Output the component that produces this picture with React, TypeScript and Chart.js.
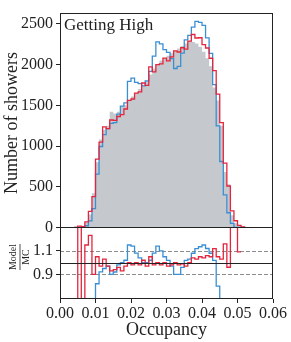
import React, { useEffect, useRef } from 'react';
import { Chart, registerables } from 'chart.js';

Chart.register(...registerables);

// ---- data (bin lower edges, width 0.001) ----
const binLow = [
  0.004, 0.005, 0.006, 0.007, 0.008, 0.009, 0.010, 0.011, 0.012, 0.013,
  0.014, 0.015, 0.016, 0.017, 0.018, 0.019, 0.020, 0.021, 0.022, 0.023,
  0.024, 0.025, 0.026, 0.027, 0.028, 0.029, 0.030, 0.031, 0.032, 0.033,
  0.034, 0.035, 0.036, 0.037, 0.038, 0.039, 0.040, 0.041, 0.042, 0.043,
  0.044, 0.045, 0.046, 0.047, 0.048, 0.049, 0.050, 0.051,
];
const binWidth = 0.001;

// MC (grey filled)
const mcCounts = [
  2, 5, 20, 60, 160, 420, 800, 1080, 1200, 1250,
  1420, 1400, 1420, 1490, 1500, 1560, 1610, 1650, 1700, 1740,
  1800, 1880, 1950, 2000, 2050, 2080, 2110, 2140, 2170, 2200,
  2230, 2260, 2290, 2280, 2260, 2220, 2160, 2080, 1980, 1720,
  1560, 1250, 680, 530, 150, 50, 22, 0,
];
// Model (red)
const redCounts = [
  0, 15, 8, 69, 197, 378, 840, 1048, 1236, 1213,
  1320, 1316, 1363, 1386, 1455, 1560, 1578, 1650, 1666, 1775,
  1746, 1974, 1911, 2000, 2009, 2080, 2047, 2097, 2170, 2156,
  2208, 2192, 2290, 2371, 2328, 2331, 2246, 2205, 2079, 1926,
  1638, 1288, 789, 509, 203, 82, 24, 6,
];
// Model (blue)
const blueCounts = [
  0, 0, 3, 20, 80, 230, 656, 994, 1140, 1213,
  1278, 1288, 1392, 1490, 1530, 1794, 1835, 1782, 1768, 1740,
  1800, 1918, 2106, 2280, 2255, 2184, 2152, 2076, 1953, 1980,
  2141, 2305, 2359, 2462, 2531, 2520, 2484, 2330, 2138, 1754,
  1248, 810, 400, 180, 50, 0, 0, 0,
];

const xTicks = [0, 0.01, 0.02, 0.03, 0.04, 0.05, 0.06];
const yMainTicks = [0, 500, 1000, 1500, 2000, 2500];
const yRatioTicks = [0.9, 1.1];
const titleText = 'Getting High';
const yMainTitle = 'Number of showers';
const xTitle = 'Occupancy';
const ratioNum = 'Model';
const ratioDen = 'MC';

const RED = '#e4253d';
const BLUE = '#3a8fd3';
const GREY = '#c5c9cd';
const INK = '#222222';
const SERIF = "'Liberation Serif', 'DejaVu Serif', serif";

function stepPoints(vals: number[]) {
  const pts: { x: number; y: number | null }[] = [{ x: binLow[0], y: 0 }];
  vals.forEach((v, i) => {
    pts.push({ x: binLow[i], y: v });
    pts.push({ x: binLow[i] + binWidth, y: v });
  });
  pts.push({ x: binLow[vals.length - 1] + binWidth, y: 0 });
  return pts;
}

function ratioPoints(num: number[], den: number[]) {
  const pts: { x: number; y: number | null }[] = [];
  num.forEach((v, i) => {
    if (den[i] > 0) {
      const r = v / den[i];
      pts.push({ x: binLow[i], y: r });
      pts.push({ x: binLow[i] + binWidth, y: r });
    } else {
      pts.push({ x: binLow[i] + binWidth / 2, y: null });
    }
  });
  return pts;
}

const decor = {
  id: 'decor',
  beforeDatasetsDraw(chart: any) {
    const { ctx } = chart;
    const x = chart.scales.x;
    const yr = chart.scales.yr;
    ctx.save();
    ctx.strokeStyle = '#8c8c8c';
    ctx.lineWidth = 1;
    ctx.setLineDash([4, 2]);
    yRatioTicks.forEach((v) => {
      const py = Math.round(yr.getPixelForValue(v)) + 0.5;
      ctx.beginPath();
      ctx.moveTo(x.left, py);
      ctx.lineTo(x.right, py);
      ctx.stroke();
    });
    ctx.restore();
  },
  afterDatasetsDraw(chart: any) {
    const { ctx } = chart;
    const x = chart.scales.x;
    const y = chart.scales.y;
    const yr = chart.scales.yr;
    ctx.save();
    // unity line
    ctx.strokeStyle = INK;
    ctx.lineWidth = 1;
    const p1 = Math.round(yr.getPixelForValue(1)) + 0.5;
    ctx.beginPath();
    ctx.moveTo(x.left, p1);
    ctx.lineTo(x.right, p1);
    ctx.stroke();
    // frames
    const L = Math.round(x.left) + 0.5;
    const R = Math.round(x.right) - 0.5;
    ctx.strokeRect(L, Math.round(y.top) + 0.5, R - L, Math.round(y.bottom) - Math.round(y.top));
    ctx.strokeRect(L, Math.round(yr.top) + 0.5, R - L, Math.round(yr.bottom) - Math.round(yr.top) - 1);

    // texts
    ctx.fillStyle = INK;
    ctx.font = `17px ${SERIF}`;
    ctx.textAlign = 'left';
    ctx.textBaseline = 'alphabetic';
    ctx.fillText(titleText, x.left + 4, y.top + 17);

    ctx.font = `18px ${SERIF}`;
    ctx.textAlign = 'center';
    ctx.textBaseline = 'middle';
    ctx.fillText(xTitle, (x.left + x.right) / 2, 330);

    ctx.save();
    ctx.translate(12, (y.top + y.bottom) / 2 + 3);
    ctx.rotate(-Math.PI / 2);
    ctx.fillText(yMainTitle, 0, 0);
    ctx.restore();

    // fraction label
    ctx.save();
    ctx.translate(20, 257);
    ctx.rotate(-Math.PI / 2);
    ctx.font = `10px ${SERIF}`;
    const w = ctx.measureText(ratioNum).width;
    ctx.textAlign = 'center';
    ctx.textBaseline = 'bottom';
    ctx.fillText(ratioNum, 0, -1.5);
    ctx.textBaseline = 'top';
    ctx.fillText(ratioDen, 0, 1.5);
    ctx.lineWidth = 0.8;
    ctx.beginPath();
    ctx.moveTo(-w / 2, 0);
    ctx.lineTo(w / 2, 0);
    ctx.stroke();
    ctx.restore();

    ctx.restore();
  },
};

export default function App() {
  const ref = useRef<HTMLCanvasElement>(null);
  useEffect(() => {
    const tickFont = { family: SERIF, size: 16 };
    const chart = new Chart(ref.current as HTMLCanvasElement, {
      type: 'line',
      data: {
        datasets: [
          {
            label: 'red',
            data: stepPoints(redCounts),
            yAxisID: 'y',
            borderColor: RED,
            borderWidth: 1.3,
            pointRadius: 0,
            fill: false,
            order: 0,
          },
          {
            label: 'blue',
            data: stepPoints(blueCounts),
            yAxisID: 'y',
            borderColor: BLUE,
            borderWidth: 1.3,
            pointRadius: 0,
            fill: false,
            order: 1,
          },
          {
            label: 'mc',
            data: stepPoints(mcCounts),
            yAxisID: 'y',
            borderColor: GREY,
            borderWidth: 0,
            backgroundColor: GREY,
            pointRadius: 0,
            fill: 'origin',
            order: 2,
          },
          {
            label: 'redRatio',
            data: ratioPoints(redCounts, mcCounts),
            yAxisID: 'yr',
            borderColor: RED,
            borderWidth: 1.3,
            pointRadius: 0,
            fill: false,
            spanGaps: false,
            order: 0,
          },
          {
            label: 'blueRatio',
            data: ratioPoints(blueCounts, mcCounts),
            yAxisID: 'yr',
            borderColor: BLUE,
            borderWidth: 1.3,
            pointRadius: 0,
            fill: false,
            spanGaps: false,
            order: 1,
          },
        ],
      } as any,
      options: {
        animation: false,
        responsive: false,
        devicePixelRatio: 1,
        parsing: false as any,
        normalized: true,
        layout: { padding: { left: 0, right: 18, top: 3, bottom: 0 } },
        plugins: {
          legend: { display: false },
          tooltip: { enabled: false },
        },
        elements: { line: { tension: 0 } },
        scales: {
          x: {
            type: 'linear',
            min: 0,
            max: 0.06,
            afterBuildTicks: (s: any) => {
              s.ticks = xTicks.map((v) => ({ value: v }));
            },
            afterFit: (s: any) => {
              s.height = 43;
            },
            ticks: {
              callback: (v: any) => Number(v).toFixed(2),
              font: tickFont,
              color: INK,
              padding: 1,
              maxRotation: 0,
              autoSkip: false,
            },
            grid: { display: true, drawOnChartArea: false, drawTicks: true, tickLength: 4, color: INK },
            border: { display: false },
          },
          y: {
            type: 'linear',
            position: 'left',
            stack: 'panels',
            stackWeight: 3,
            weight: 2,
            min: 0,
            max: 2640,
            afterBuildTicks: (s: any) => {
              s.ticks = yMainTicks.map((v) => ({ value: v }));
            },
            afterFit: (s: any) => {
              s.width = 60;
            },
            ticks: {
              callback: (v: any) => String(v),
              font: tickFont,
              color: INK,
              padding: 3,
            },
            grid: { display: true, drawOnChartArea: false, drawTicks: true, tickLength: 4, color: INK },
            border: { display: false },
          },
          yr: {
            type: 'linear',
            position: 'left',
            stack: 'panels',
            stackWeight: 1,
            weight: 1,
            min: 0.69,
            max: 1.3,
            afterBuildTicks: (s: any) => {
              s.ticks = yRatioTicks.map((v) => ({ value: v }));
            },
            afterFit: (s: any) => {
              s.width = 60;
            },
            ticks: {
              callback: (v: any) => Number(v).toFixed(1),
              font: tickFont,
              color: INK,
              padding: 3,
            },
            grid: { display: true, drawOnChartArea: false, drawTicks: true, tickLength: 4, color: INK },
            border: { display: false },
          },
        },
      } as any,
      plugins: [decor],
    });
    return () => chart.destroy();
  }, []);

  return (
    <div style={{ position: 'absolute', left: 0, top: 0, width: 291, height: 342, background: '#fff' }}>
      <canvas ref={ref} width={291} height={342} style={{ display: 'block', width: 291, height: 342 }} />
    </div>
  );
}
